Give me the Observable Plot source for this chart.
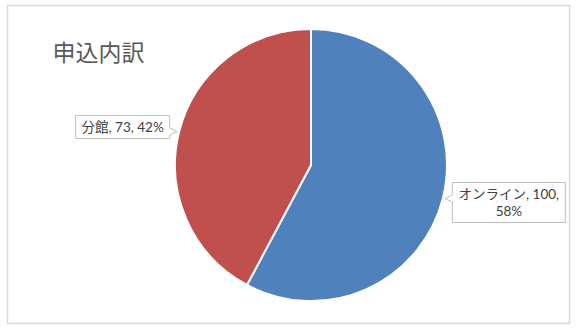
<!DOCTYPE html>
<html><head><meta charset="utf-8">
<script src="https://cdn.jsdelivr.net/npm/d3@7"></script>
<script src="https://cdn.jsdelivr.net/npm/@observablehq/plot@0.6"></script>
<style>
html,body{margin:0;padding:0;background:#fff;}
</style>
</head><body><div id="chart"></div>
<script>
// ---- data ----
const title = "申込内訳";
const categories = ["オンライン", "分館"];
const values = [100, 73];
const colors = ["#4F81BD", "#C0504D"];

const total = d3.sum(values);
const slices = categories.map((name, i) => ({
  name, value: values[i], pct: Math.round(values[i] / total * 100)
}));

// ---- layout ----
const W = 580, H = 332;
const layout = {cx: 311, cy: 165, r: 136,
  font: "Lato, 'Noto Sans CJK JP', sans-serif",
  titleFont: "'Noto Sans CJK JP', 'Noto Sans', sans-serif"};

function labelLines(d) {
  const full = `${d.name}, ${d.value}, ${d.pct}%`;
  if (full.length > 12) return [`${d.name}, ${d.value},`, `${d.pct}%`];
  return [full];
}

const canvas = document.createElement("canvas");
const ctx = canvas.getContext("2d");
const fs = 13.5;
ctx.font = `${fs}px ${layout.font}`;

function pieMark(index, scales, channels, dimensions) {
  const {cx, cy, r} = layout;
  const g = d3.create("svg:g");
  const arcs = d3.pie().sort(null).value(d => d.value)(slices);
  const arc = d3.arc().innerRadius(0).outerRadius(r);
  g.append("g").attr("transform", `translate(${cx},${cy})`)
    .selectAll("path").data(arcs).join("path")
    .attr("d", arc)
    .attr("fill", d => scales.color(d.data.name))
    .attr("stroke", "#fff").attr("stroke-width", 2).attr("stroke-linejoin", "round");

  for (const a of arcs) {
    const mid = (a.startAngle + a.endAngle) / 2;
    const tx = cx + Math.sin(mid) * (r + 2);
    const ty = cy - Math.cos(mid) * (r + 2);
    const lines = labelLines(a.data);
    const tw = d3.max(lines, l => ctx.measureText(l).width);
    const bw = Math.round(tw + 12);
    const bh = lines.length * 17 + 6;
    const left = tx < cx;
    const x0 = left ? tx - 7.5 - bw : tx + 7.5;
    const x1 = x0 + bw;
    const y0 = Math.round(ty - 16.5) + 0.5;
    const y1 = y0 + bh;
    const n0 = ty - 3.5, n1 = ty + 3.5;
    let p;
    if (left) {
      p = `M${x0},${y0}H${x1}V${n0}L${tx},${ty}L${x1},${n1}V${y1}H${x0}Z`;
    } else {
      p = `M${x0},${y0}H${x1}V${y1}H${x0}V${n1}L${tx},${ty}L${x0},${n0}Z`;
    }
    g.append("path").attr("d", p).attr("fill", "#fff").attr("stroke", "#bfbfbf").attr("stroke-width", 1);
    lines.forEach((l, i) => {
      g.append("text")
        .attr("font-family", layout.font).attr("font-size", fs).attr("fill", "#404040")
        .attr("text-anchor", "middle")
        .attr("x", (x0 + x1) / 2)
        .attr("y", y0 + 3 + 17 * i + 13.5).text(l);
    });
  }
  return g.node();
}

const chart = Plot.plot({
  width: W, height: H,
  margin: 0,
  style: {background: "#fff"},
  color: {domain: categories, range: colors},
  marks: [
    Plot.frame({stroke: "#d9d9d9", strokeWidth: 1.5, insetLeft: 7, insetTop: 5, insetRight: 11, insetBottom: 9}),
    Plot.dot(slices, {fill: "name", r: 0}),
    pieMark,
    Plot.text([title], {frameAnchor: "top-left", dx: 52, dy: 53, fontSize: 23, fill: "#595959",
      fontFamily: layout.titleFont, lineAnchor: "middle", textAnchor: "start"})
  ]
});
document.getElementById("chart").appendChild(chart);
</script>
</body></html>
